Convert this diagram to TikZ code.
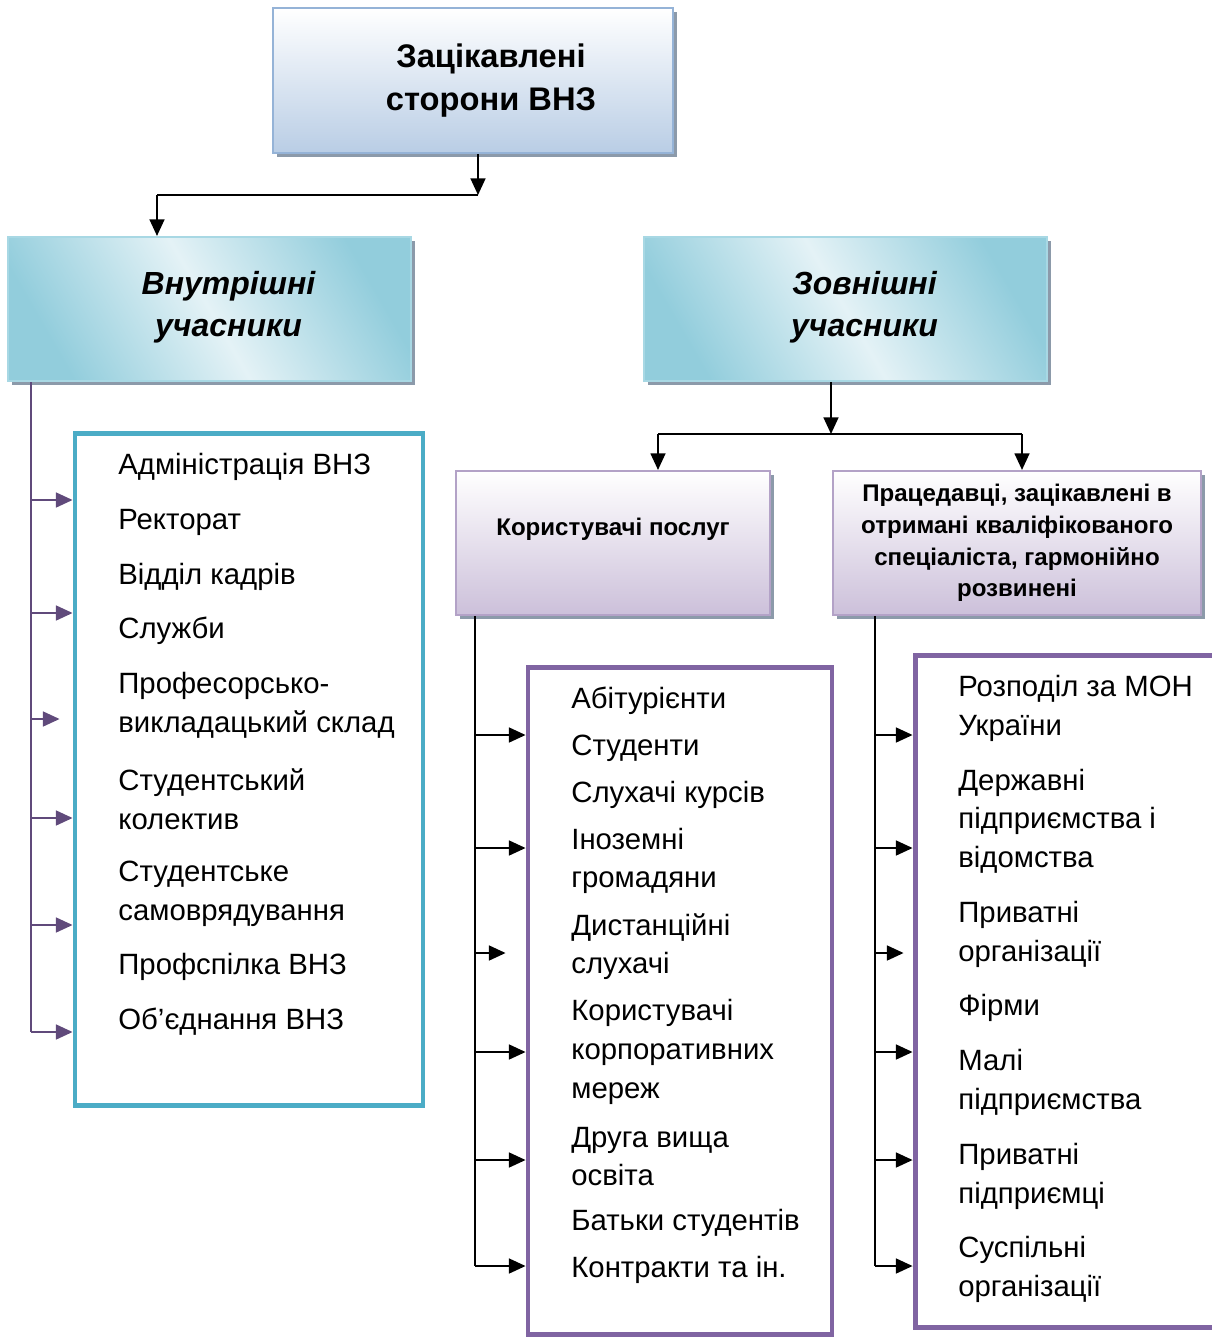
\documentclass[tikz,border=0pt]{standalone}
\usepackage{fontspec}
\setmainfont{Liberation Sans}
\usetikzlibrary{arrows.meta, positioning, shadows}
\definecolor{topline}{HTML}{95B3D7}
\definecolor{topfill}{HTML}{B9CDE5}
\definecolor{tealfill}{HTML}{92CDDC}
\definecolor{teallight}{HTML}{E4F2F6}
\definecolor{tealline}{HTML}{A8D8E4}
\definecolor{lavfill}{HTML}{CCC0DA}
\definecolor{lavline}{HTML}{B3A2C7}
\definecolor{listcyan}{HTML}{4BACC6}
\definecolor{listpurple}{HTML}{8064A2}
\definecolor{trunkpurple}{HTML}{604A7B}
\definecolor{shadowgray}{HTML}{8C9AAA}

\begin{document}
\begin{tikzpicture}[x=0.02cm, y=-0.02cm,
  boxshadow/.style={general shadow={fill=shadowgray, shadow xshift=2.5pt, shadow yshift=-2.5pt}},
  head/.style={boxshadow, draw=topline, line width=1.2pt, top color=white, bottom color=topfill,
               minimum width=8cm, minimum height=2.9cm},
  headtext/.style={align=center, font=\bfseries\fontsize{18.6}{24}\selectfont},
  group/.style={boxshadow, draw=tealline, line width=1.2pt, top color=tealfill, bottom color=tealfill,
                middle color=teallight, shading angle=-60, minimum width=8.06cm,
                minimum height=2.88cm},
  grouptext/.style={align=center, font=\bfseries\itshape\fontsize{18.2}{24}\selectfont},
  kind/.style={boxshadow, draw=lavline, line width=1.2pt, top color=white, bottom color=lavfill,
               minimum height=2.88cm, align=center, font=\bfseries\fontsize{13.7}{18}\selectfont},
  listbox/.style={line width=2.8pt, fill=white, minimum width=#1, inner sep=0pt},
  item/.style={anchor=west, align=left, font=\fontsize{16.7}{22}\selectfont, inner sep=0pt,
               yshift=-1.7pt},
  arr/.style={-{Triangle[length=9.5pt,width=8.5pt]}, line width=1.1pt},
  parr/.style={arr, trunkpurple}
]
\useasboundingbox (0,0) rectangle (1212,1338);
\clip (0,0) rectangle (1212,1338);

% top level
\node[head] (stake) at (473,80.5) {};
\node[headtext] (staketext) at ([xshift=0.36cm]stake.center) {Зацікавлені\\сторони ВНЗ};
\node[group] (inner) at (209.5,309) {};
\node[grouptext] (innertext) at ([xshift=0.38cm, yshift=0.04cm]inner.center) {Внутрішні\\учасники};
\node[group] (outer) at (845.5,309) {};
\node[grouptext] (outertext) at ([xshift=0.38cm, yshift=0.04cm]outer.center) {Зовнішні\\учасники};
\node[kind, minimum width=6.28cm] (users) at (613,543) {Користувачі послуг\\\mbox{}};
\node[kind, minimum width=7.36cm] (employ) at (1017,543)
  {Працедавці, зацікавлені в\\отримані кваліфікованого\\спеціаліста, гармонійно\\розвинені};

\coordinate (split) at (478,195);
\coordinate (bend)  at (157,195);
\draw[arr] (stake.south -| split) -- (split);
\draw[line width=1.1pt] (split) -- (bend);
\draw[arr] (bend) -- (bend |- inner.north);

\coordinate (fork)  at (831,434);
\coordinate (forkl) at (658,434);
\coordinate (forkr) at (1022,434);
\draw[arr] (outer.south -| fork) -- (fork);
\draw[line width=1.1pt] (forkl) -- (forkr);
\draw[arr] (forkl) -- (forkl |- users.north);
\draw[arr] (forkr) -- (forkr |- employ.north);

% lists
\node[listbox=6.96cm, draw=listcyan, minimum height=13.46cm] (ilist) at (249,769.5) {};
\node[listbox=6.08cm, draw=listpurple, minimum height=13.36cm] (ulist) at (680,1001) {};
\node[listbox=6.3cm, draw=listpurple, minimum height=13.46cm] (elist) at (1072.5,991.5) {};

\node[item] (a1) at (118,464)   {Адміністрація ВНЗ};
\node[item] (a2) at (118,519)   {Ректорат};
\node[item] (a3) at (118,574)   {Відділ кадрів};
\node[item] (a4) at (118,628)   {Служби};
\node[item] (a5) at (118,702.5) {Професорсько-\\викладацький склад};
\node[item] (a6) at (118,796.5) {Студентський\\колектив};
\node[item] (a7) at (118,890.5) {Студентське\\самоврядування};
\node[item] (a8) at (118,964)   {Профспілка ВНЗ};
\node[item] (a9) at (118,1019)  {Об’єднання ВНЗ};

\node[item] (b1) at (571,698)    {Абітурієнти};
\node[item] (b2) at (571,745)    {Студенти};
\node[item] (b3) at (571,792)    {Слухачі курсів};
\node[item] (b4) at (571,858)    {Іноземні\\громадяни};
\node[item] (b5) at (571,943.5)  {Дистанційні\\слухачі};
\node[item] (b6) at (571,1049)   {Користувачі\\корпоративних\\мереж};
\node[item] (b7) at (571,1153.5) {Друга вища\\освіта};
\node[item] (b8) at (571,1220)   {Батьки студентів};
\node[item] (b9) at (571,1267)   {Контракти та ін.};

\node[item] (c1) at (958,705.5)  {Розподіл за МОН\\України};
\node[item] (c2) at (958,818)    {Державні\\підприємства і\\відомства};
\node[item] (c3) at (958,931.5)  {Приватні\\організації};
\node[item] (c4) at (958,1005)   {Фірми};
\node[item] (c5) at (958,1079.5) {Малі\\підприємства};
\node[item] (c6) at (958,1173.5) {Приватні\\підприємці};
\node[item] (c7) at (958,1266.5) {Суспільні\\організації};

% trunks
\coordinate (itrunk) at ([xshift=0.48cm]inner.south west);
\coordinate (utrunk) at ([xshift=0.4cm]users.south west);
\coordinate (etrunk) at ([xshift=0.86cm]employ.south west);

\draw[trunkpurple, line width=1.1pt] (itrunk) -- (itrunk |- 0,1032);
\foreach \yy in {500,613,818,925,1032}
  \draw[parr] (itrunk |- 0,\yy) -- (ilist.west |- 0,\yy);
\draw[parr, shorten >=0.26cm] (itrunk |- 0,719) -- (ilist.west |- 0,719);

\draw[line width=1.1pt] (utrunk) -- (utrunk |- 0,1266);
\draw[line width=1.1pt] (etrunk) -- (etrunk |- 0,1266);
\foreach \yy in {735,848,1052,1160,1266}{
  \draw[arr] (utrunk |- 0,\yy) -- (ulist.west |- 0,\yy);
  \draw[arr] (etrunk |- 0,\yy) -- (elist.west |- 0,\yy);
}
\draw[arr, shorten >=0.4cm] (utrunk |- 0,953) -- (ulist.west |- 0,953);
\draw[arr, shorten >=0.18cm] (etrunk |- 0,953) -- (elist.west |- 0,953);

\end{tikzpicture}
\end{document}
